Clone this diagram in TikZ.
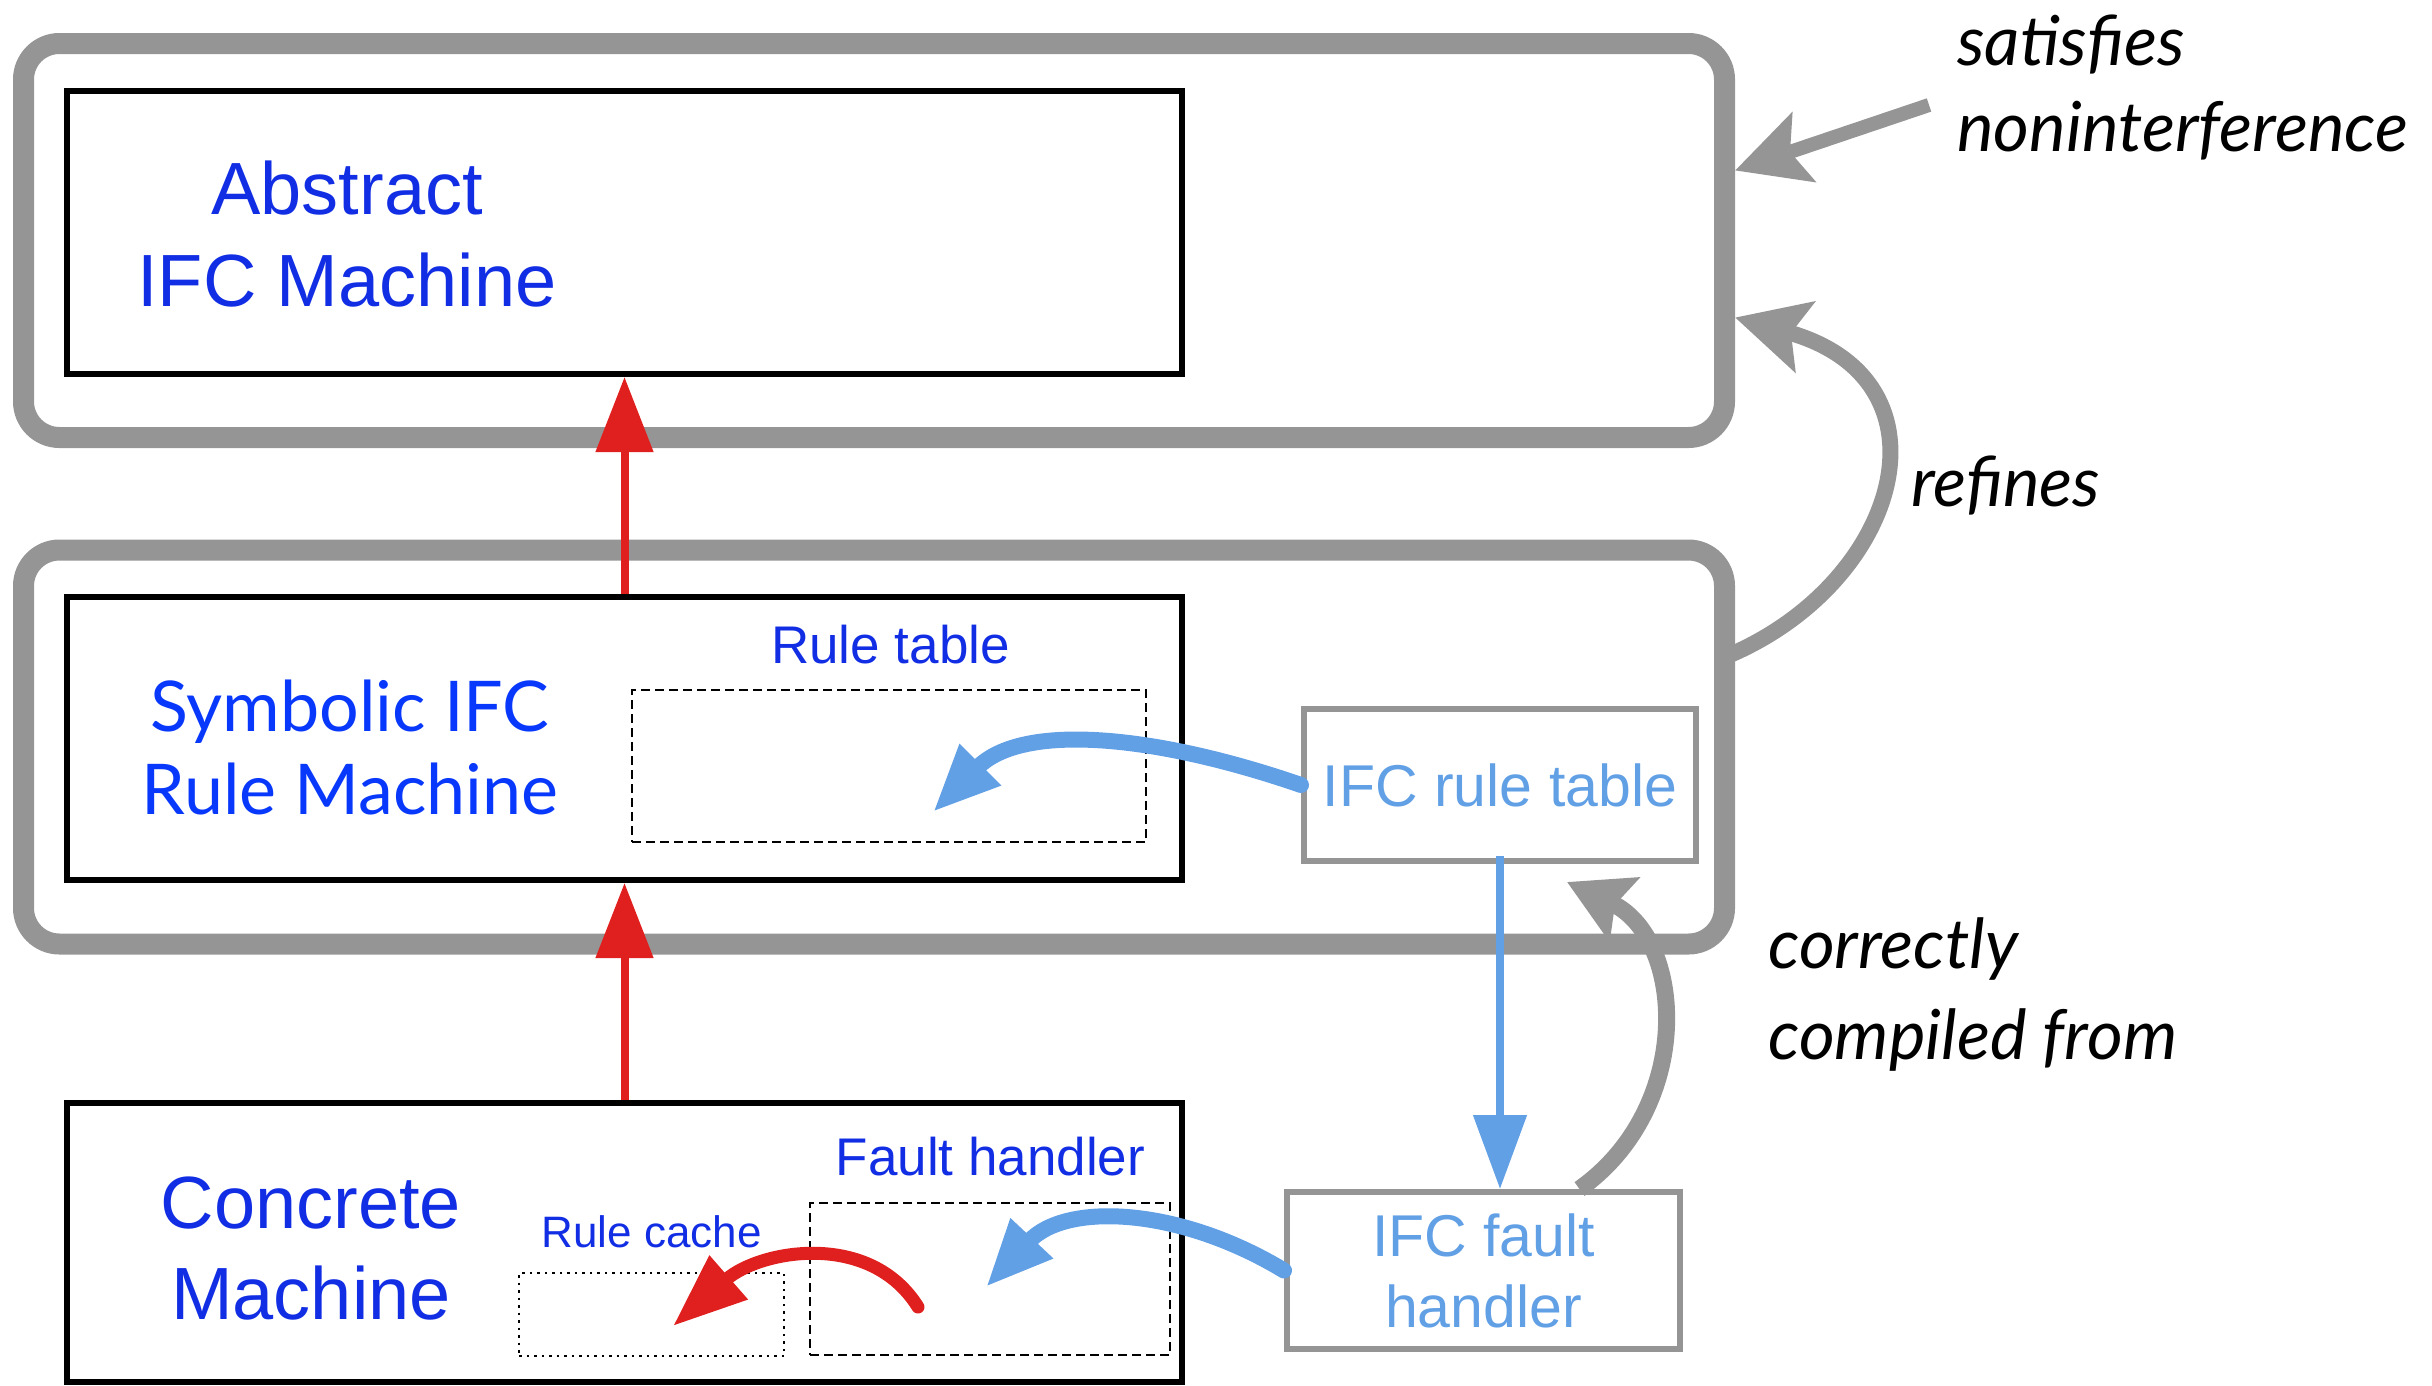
\documentclass[tikz,border=0pt]{standalone}
\usepackage{fontspec}
\setmainfont{Liberation Sans}
\newfontfamily\gillfont{Lato}
\usetikzlibrary{arrows.meta}
\definecolor{gbox}{RGB}{149,149,149}
\definecolor{dblue}{RGB}{18,46,228}
\definecolor{sblue}{RGB}{8,56,252}
\definecolor{lblue}{RGB}{98,160,230}
\definecolor{ired}{RGB}{224,32,30}
\begin{document}
\begin{tikzpicture}[x=1pt,y=-1pt,
  graybox/.style={draw=gbox, line width=21pt, rounded corners=36pt, minimum width=1701pt, minimum height=394pt, inner sep=0pt},
  machine/.style={draw=black, line width=6pt, minimum width=1115pt, minimum height=283pt, inner sep=0pt},
  graysmall/.style={draw=gbox, line width=6pt, inner sep=0pt, text=lblue, align=center, font=\fontsize{59}{71}\selectfont},
  dashbox/.style={draw=black, line width=2.5pt, dash pattern=on 9pt off 5pt, inner sep=0pt},
  dotbox/.style={draw=black, line width=2.5pt, dash pattern=on 2.5pt off 5pt, inner sep=0pt},
  bigtxt/.style={inner sep=0pt, text=dblue, anchor=base, font=\fontsize{74}{92}\selectfont},
  smalltxt/.style={inner sep=0pt, text=dblue, anchor=base},
  itl/.style={inner sep=0pt, anchor=base west, font=\gillfont\itshape\fontsize{69}{86}\selectfont},
  redarr/.style={ired, line width=8pt, -{Triangle[length=75pt,width=56pt]}},
  bluearr/.style={lblue, line width=16pt, line cap=round, -{Triangle[length=67pt,width=54pt]}},
  grayarr/.style={gbox, -{Stealth[length=72pt,width=72pt,inset=14pt]}}
]
\useasboundingbox (0,0) rectangle (2432,1385);

% level boxes
\node[graybox] (lvl1) at (874,240.5) {};
\node[graybox] (lvl2) at (874,747) {};

% machines
\node[machine] (abs) at (624.5,232.5) {};
\node[machine] (sym) at (624.5,738.5) {};
\node[machine, minimum height=279pt] (conc) at (624.5,1242.5) {};

% machine labels
\node[bigtxt] (abstxt) at (347,214) {\begin{tabular}[t]{@{}c@{}}Abstract\\IFC Machine\end{tabular}};
\node[bigtxt, text=sblue, font=\gillfont\fontsize{70}{83}\selectfont] (symtxt) at (350,731) {\begin{tabular}[t]{@{}c@{}}Symbolic IFC\\Rule Machine\end{tabular}};
\node[bigtxt, font=\fontsize{74}{91}\selectfont] (conctxt) at (311,1228) {\begin{tabular}[t]{@{}c@{}}Concrete\\Machine\end{tabular}};

% inner boxes
\node[dashbox, minimum width=514pt, minimum height=152pt] (rtab) at (889,766) {};
\node[dashbox, minimum width=360pt, minimum height=152pt] (fhbox) at (990,1279) {};
\node[dotbox, minimum width=265pt, minimum height=83pt] (rcache) at (651.5,1314.5) {};

\node[smalltxt, font=\fontsize{53}{60}\selectfont] (rtabtxt) at (890.5,663) {Rule table};
\node[smalltxt, font=\fontsize{53}{60}\selectfont] (fhtxt) at (990.5,1175) {Fault handler};
\node[smalltxt, font=\fontsize{44}{50}\selectfont] (rctxt) at (651.5,1247) {Rule cache};

% right-hand boxes
\node[graysmall, minimum width=392pt, minimum height=152pt] (rt) at (1500,785) {IFC rule table};
\node[graysmall, minimum width=393pt, minimum height=157pt] (fh) at (1483.5,1270.5) {IFC fault\\handler};

% italic labels
\node[itl] (sat) at (1957,65) {\begin{tabular}[t]{@{}l@{}}satisfies\\noninterference\end{tabular}};
\node[itl] (ref) at (1911,506) {refines};
\node[itl, font=\gillfont\itshape\fontsize{69}{91}\selectfont] (comp) at (1768,968) {\begin{tabular}[t]{@{}l@{}}correctly\\compiled from\end{tabular}};

% free ends
\coordinate (satstart) at (1929,105);
\coordinate (symtip) at (933,812);
\coordinate (conctip) at (986,1287);
\coordinate (redstart) at (918,1307);
\coordinate (cachetip) at (673,1326);
\coordinate (comptip) at (1567,882);

% red refinement arrows
\draw[redarr] (sym.north) -- (abs.south);
\draw[redarr] (conc.north) -- (sym.south);

% blue arrows
\draw[bluearr] (rt.west) .. controls (1156,735) and (1023,722) .. (symtip);
\draw[bluearr] (fh.west) .. controls (1179,1207) and (1066,1202) .. (conctip);
\draw[lblue, line width=8pt, -{Triangle[length=74pt,width=52pt]}] ([yshift=8pt]rt.south) -- (rt.south |- fh.north);

% red cache arrow
\draw[ired, line width=13pt, line cap=round, -{Triangle[length=74pt,width=55pt]}] (redstart) .. controls (870,1230) and (760,1250) .. (cachetip);

% gray arrows
\draw[grayarr, line width=14pt] (satstart) -- ([yshift=70pt]lvl1.east);
\draw[grayarr, line width=16pt] ([xshift=-10pt,yshift=90pt]lvl2.east) .. controls (1900,585) and (1960,380) .. ([yshift=-77pt]lvl1.east);
\draw[gbox, line width=17pt, -{Stealth[length=63pt,width=69pt,inset=10pt]}] ([xshift=96pt]fh.north) .. controls (1695,1107) and (1685,938) .. (comptip);
\end{tikzpicture}
\end{document}
